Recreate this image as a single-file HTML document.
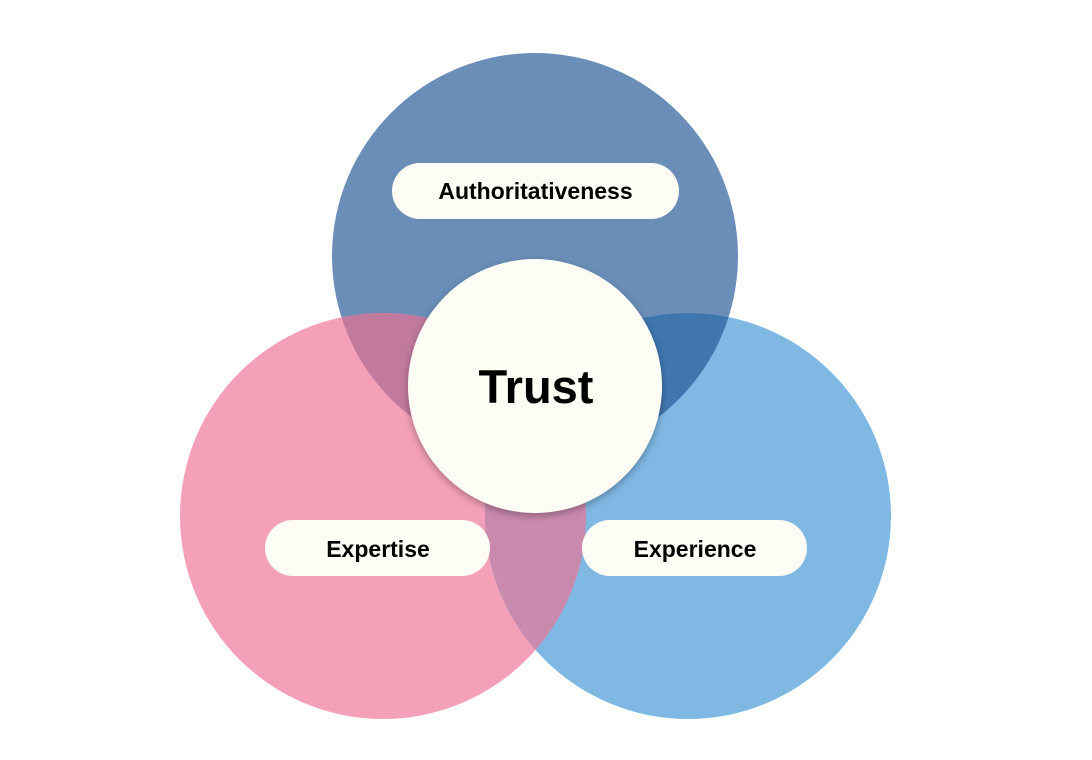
<!DOCTYPE html>
<html><head><style>
html,body{margin:0;padding:0;background:#fff;width:1092px;height:760px;overflow:hidden}
</style></head><body>
<svg width="1092" height="760" xmlns="http://www.w3.org/2000/svg">
<defs>
<clipPath id="cT"><circle cx="535" cy="256" r="203"/></clipPath>
<clipPath id="cL"><circle cx="383" cy="516" r="203"/></clipPath>
<filter id="sh" x="-20%" y="-20%" width="140%" height="140%"><feDropShadow dx="0" dy="3" stdDeviation="4" flood-color="#000" flood-opacity="0.3"/></filter>
</defs>
<circle cx="535" cy="256" r="203" fill="#6a8eb8"/>
<circle cx="383" cy="516" r="203" fill="#f4a0b8"/>
<circle cx="688" cy="516" r="203" fill="#80b8e4"/>
<g clip-path="url(#cT)"><circle cx="383" cy="516" r="203" fill="#c17a9e"/><circle cx="688" cy="516" r="203" fill="#4076ae"/></g>
<g clip-path="url(#cL)"><circle cx="688" cy="516" r="203" fill="#ca8aae"/></g>
<circle cx="535" cy="386" r="127" fill="#fdfdf6" filter="url(#sh)"/>
<text x="536" y="403" text-anchor="middle" font-family="Liberation Sans, sans-serif" font-size="47" font-weight="bold" fill="#000">Trust</text>
<rect x="392" y="163" width="287" height="56" rx="28" fill="#fdfdf6"/>
<text x="535.5" y="199" text-anchor="middle" font-family="Liberation Sans, sans-serif" font-size="23" font-weight="bold" fill="#000">Authoritativeness</text>
<rect x="265" y="520" width="225" height="56" rx="28" fill="#fdfdf6"/>
<text x="378" y="557" text-anchor="middle" font-family="Liberation Sans, sans-serif" font-size="23" font-weight="bold" fill="#000">Expertise</text>
<rect x="582" y="520" width="225" height="56" rx="28" fill="#fdfdf6"/>
<text x="695" y="557" text-anchor="middle" font-family="Liberation Sans, sans-serif" font-size="23" font-weight="bold" fill="#000">Experience</text>
</svg>
</body></html>
